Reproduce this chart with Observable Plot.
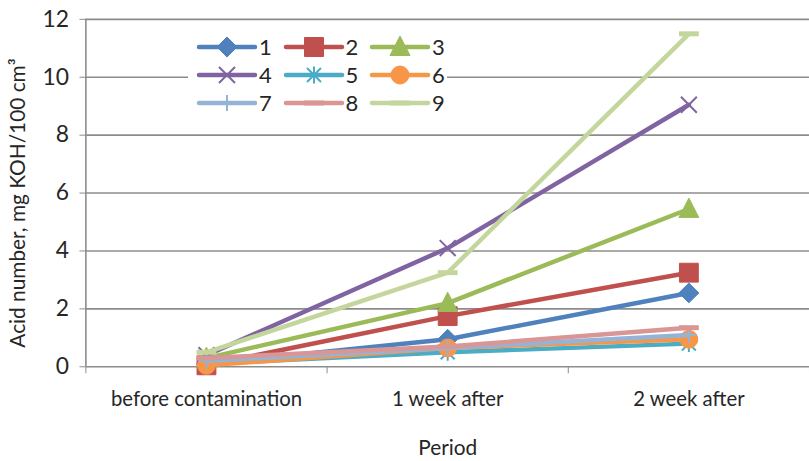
<!DOCTYPE html>
<html>
<head>
<meta charset="utf-8">
<script src="https://cdn.jsdelivr.net/npm/d3@7"></script>
<script src="https://cdn.jsdelivr.net/npm/@observablehq/plot@0.6"></script>
<style>
  html, body { margin: 0; padding: 0; background: #fff; overflow: hidden; }
  #wrap { position: relative; width: 809px; height: 461px; overflow: hidden; font-family: Lato, "Open Sans", sans-serif; }
  #wrap svg text { fill: #262626; }
  #legend { position: absolute; left: 188px; top: 33px; width: 259px; height: 84px; background: #fff; }
  .item { position: absolute; height: 28px; display: flex; align-items: center; }
  .item span { font-size: 22px; color: #262626; margin-left: 3px; line-height: 28px; }
</style>
</head>
<body>
<div id="wrap"><div id="chart"></div><div id="legend"></div></div>
<script>
// ---- data ----
const periods = ["before contamination", "1 week after", "2 week after"];
const seriesNames = ["1", "2", "3", "4", "5", "6", "7", "8", "9"];
const s1 = [0.10, 0.95, 2.55];
const s2 = [0.05, 1.75, 3.25];
const s3 = [0.30, 2.20, 5.45];
const s4 = [0.40, 4.10, 9.05];
const s5 = [0.10, 0.50, 0.80];
const s6 = [0.05, 0.65, 0.95];
const s7 = [0.20, 0.65, 1.10];
const s8 = [0.30, 0.70, 1.35];
const s9 = [0.50, 3.25, 11.50];
const yTicks = [0, 2, 4, 6, 8, 10, 12];
const yTitle = "Acid number, mg KOH/100 cm³";
const xTitle = "Period";

// ---- styles ----
const colors = ["#4F81BD", "#C0504D", "#9BBB59", "#8064A2", "#4BACC6", "#F79646", "#95B3D7", "#D99694", "#C3D69B"];
const sym = {
  diamond: h => ({draw(c) { c.moveTo(0, -h); c.lineTo(h, 0); c.lineTo(0, h); c.lineTo(-h, 0); c.closePath(); }}),
  square: h => ({draw(c) { c.moveTo(-h, -h); c.lineTo(h, -h); c.lineTo(h, h); c.lineTo(-h, h); c.closePath(); }}),
  triangle: h => ({draw(c) { c.moveTo(0, -h * 1.1); c.lineTo(h, h * 0.85); c.lineTo(-h, h * 0.85); c.closePath(); }}),
  times: h => ({draw(c) { c.moveTo(-h, -h); c.lineTo(h, h); c.moveTo(h, -h); c.lineTo(-h, h); }}),
  star: h => ({draw(c) { c.moveTo(-h, -h); c.lineTo(h, h); c.moveTo(h, -h); c.lineTo(-h, h); c.moveTo(0, -h * 1.2); c.lineTo(0, h * 1.2); }}),
  circle: h => ({draw(c) { c.moveTo(h, 0); c.arc(0, 0, h, 0, 2 * Math.PI); c.closePath(); }}),
  plus: h => ({draw(c) { c.moveTo(0, -h); c.lineTo(0, h); c.moveTo(-h, 0); c.lineTo(h, 0); }}),
  dash: h => ({draw(c) { c.moveTo(-h, 0); c.lineTo(h, 0); }})
};
const markers = [
  {s: sym.diamond(10), fill: true, sw: 1},
  {s: sym.square(9.5), fill: true, sw: 1},
  {s: sym.triangle(10), fill: true, sw: 1},
  {s: sym.times(8), fill: false, sw: 2},
  {s: sym.star(7), fill: false, sw: 2},
  {s: sym.circle(9), fill: true, sw: 1},
  {s: sym.plus(8), fill: false, sw: 2},
  {s: sym.dash(10), fill: false, sw: 5},
  {s: sym.dash(10), fill: false, sw: 5}
];

const allValues = [s1, s2, s3, s4, s5, s6, s7, s8, s9];
const rows = allValues.map((vals, k) => vals.map((v, i) => ({series: seriesNames[k], period: periods[i], xi: i + 0.5, v})));

const grid = "#8c8c8c";
const marks = [
  Plot.ruleY(yTicks, {stroke: grid, strokeWidth: 1.6}),
  Plot.ruleX([0], {stroke: grid, strokeWidth: 1.6}),
  Plot.text(periods, {x: (d, i) => i + 0.5, text: d => d, frameAnchor: "bottom", dy: 40, fontSize: 20.5, fill: "#262626"}),
  Plot.text([xTitle], {x: [1.5], text: d => d, frameAnchor: "bottom", dy: 89, fontSize: 21, fill: "#262626"}),
  Plot.text([yTitle], {text: d => d, frameAnchor: "left", textAnchor: "middle", dx: -68, dy: 10, rotate: -90, fontSize: 21, fill: "#262626"})
];
rows.forEach((r, k) => {
  marks.push(Plot.line(r, {x: "xi", y: "v", stroke: colors[k], strokeWidth: 4.5, strokeLinejoin: "round"}));
  const m = markers[k];
  marks.push(Plot.dot(r, {x: "xi", y: "v", symbol: m.s, r: 5, fill: m.fill ? colors[k] : "none", stroke: colors[k], strokeWidth: m.sw}));
});

const chart = Plot.plot({
  width: 815,
  height: 461,
  marginTop: 19,
  marginBottom: 92,
  marginLeft: 86,
  marginRight: 0,
  style: {fontFamily: "Lato, 'Open Sans', sans-serif", fontSize: "23px", color: grid, background: "#fff", overflow: "visible"},
  x: {domain: [0, 3], ticks: [0, 1, 2, 3], tickFormat: () => "", tickSize: 7, label: null},
  y: {domain: [0, 12], ticks: yTicks, tickSize: 6, tickPadding: 11, label: null},
  marks
});
document.getElementById("chart").appendChild(chart);

// ---- legend (inside the plot area, white box) ----
const legend = document.getElementById("legend");
seriesNames.forEach((name, k) => {
  const col = k % 3, row = Math.floor(k / 3);
  const item = document.createElement("div");
  item.className = "item";
  item.style.left = (10 + col * 86.5) + "px";
  item.style.top = (row * 28) + "px";
  const p = d3.path();
  markers[k].s.draw(p, 0);
  const m = markers[k];
  item.innerHTML = `<svg width="58" height="28" style="overflow:visible">
    <line x1="1" x2="57" y1="14" y2="14" stroke="${colors[k]}" stroke-width="4.5" stroke-linecap="round"/>
    <path transform="translate(29,14)" d="${p.toString()}" fill="${m.fill ? colors[k] : "none"}" stroke="${colors[k]}" stroke-width="${m.sw}"/>
  </svg><span>${name}</span>`;
  legend.appendChild(item);
});
</script>
</body>
</html>
